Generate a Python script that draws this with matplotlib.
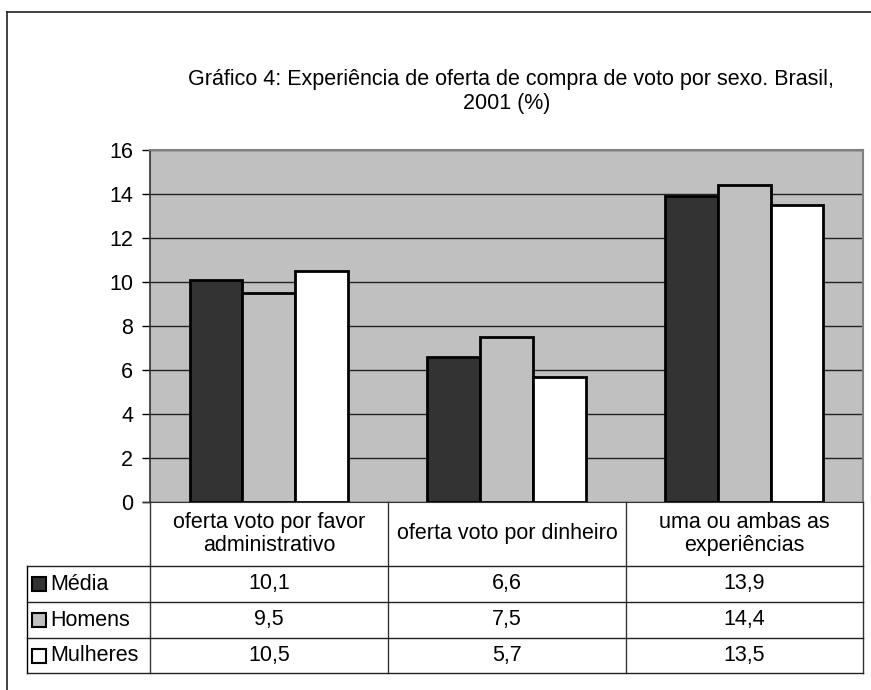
import matplotlib.pyplot as plt
from matplotlib.lines import Line2D
from matplotlib.patches import Rectangle
import numpy as np

plt.rcParams['font.family'] = ['Liberation Sans', 'DejaVu Sans']

categories = ['oferta voto por favor\nadministrativo', 'oferta voto por dinheiro',
              'uma ou ambas as\nexperiências']
series = ['Média', 'Homens', 'Mulheres']
media = [10.1, 6.6, 13.9]
homens = [9.5, 7.5, 14.4]
mulheres = [10.5, 5.7, 13.5]
colors = ['#333333', '#c0c0c0', '#ffffff']
yticks = [0, 2, 4, 6, 8, 10, 12, 14, 16]

FS = 15.5
W, H = 871, 690
fig = plt.figure(figsize=(W / 100, H / 100), dpi=100)


def fx(x):
    return x / W


def fy(y):
    return 1 - y / H


def hline(x0, x1, y, color='black', lw=1.0):
    fig.add_artist(Line2D([fx(x0), fx(x1)], [fy(y), fy(y)], color=color, lw=lw,
                          transform=fig.transFigure))


def vline(x, y0, y1, color='black', lw=1.0):
    fig.add_artist(Line2D([fx(x), fx(x)], [fy(y0), fy(y1)], color=color, lw=lw,
                          transform=fig.transFigure))


# plot area
left, right, top, bottom = 150, 863, 150, 502
ax = fig.add_axes([fx(left), fy(bottom), fx(right) - fx(left), fy(top) - fy(bottom)])
ax.set_facecolor('#c0c0c0')

n = len(series)
bw = 1 / (n + 1.5)
x = np.arange(len(categories)) + 0.5
for i, (vals, c) in enumerate(zip([media, homens, mulheres], colors)):
    ax.bar(x + (i - 1) * bw, vals, width=bw, color=c, edgecolor='black',
           linewidth=2, zorder=3)

ax.set_xlim(0, 3)
ax.set_ylim(0, 16)
ax.set_yticks(yticks)
ax.set_yticklabels([str(t) for t in yticks], fontsize=FS)
ax.set_xticks([])
ax.yaxis.grid(True, color='#222222', lw=1)
ax.set_axisbelow(True)
ax.tick_params(axis='y', length=6, width=1, direction='out', pad=6)
ax.spines['left'].set_color('#333333')
ax.spines['left'].set_linewidth(1.2)
ax.spines['bottom'].set_color('#333333')
ax.spines['top'].set_color('#808080')
ax.spines['top'].set_linewidth(1.5)
ax.spines['right'].set_color('#808080')
ax.spines['right'].set_linewidth(1.5)

# title
fig.text(fx(511), fy(79), 'Gráfico 4: Experiência de oferta de compra de voto por sexo. Brasil,',
         ha='center', va='center', fontsize=FS)
fig.text(fx(507), fy(103), '2001 (%)', ha='center', va='center', fontsize=FS)

# data table
col_x = [150, 388, 626, 863]
row_y = [502, 566, 602, 638, 673]
legend_left = 27
for cx in col_x:
    vline(cx, row_y[0], row_y[-1], color='#333333')
vline(legend_left, row_y[1], row_y[-1])
for ry in row_y[1:]:
    hline(legend_left, col_x[-1], ry, color='#222222')
hline(143, col_x[0], row_y[0], color='#333333')

for j, cat in enumerate(categories):
    cxm = (col_x[j] + col_x[j + 1]) / 2
    fig.text(fx(cxm), fy((row_y[0] + row_y[1]) / 2), cat, ha='center', va='center',
             fontsize=FS, linespacing=1.15)

for i, (name, vals, c) in enumerate(zip(series, [media, homens, mulheres], colors)):
    yc = (row_y[i + 1] + row_y[i + 2]) / 2
    fig.add_artist(Rectangle((fx(32), fy(yc + 7)), fx(14), 14 / H, facecolor=c,
                             edgecolor='black', lw=1.5, transform=fig.transFigure))
    fig.text(fx(50), fy(yc), name, ha='left', va='center', fontsize=FS)
    for j, v in enumerate(vals):
        cxm = (col_x[j] + col_x[j + 1]) / 2
        fig.text(fx(cxm), fy(yc), f'{v:.1f}'.replace('.', ','), ha='center',
                 va='center', fontsize=FS)

# chart frame
hline(7, W, 12, color='#222222', lw=1.2)
vline(7, 12, H, color='#222222', lw=1.2)

fig.savefig('out.png', dpi=100)
